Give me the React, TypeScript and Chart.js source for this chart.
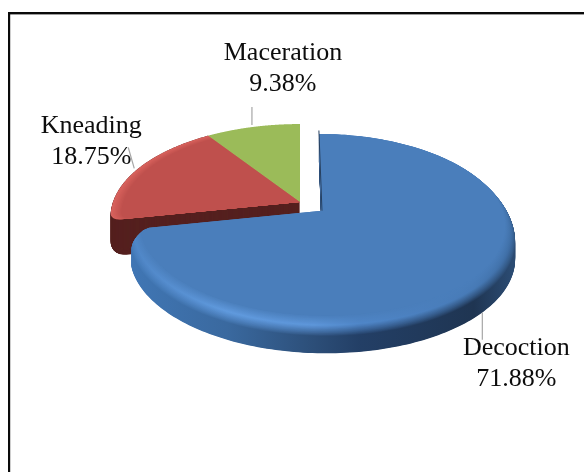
import React, { useEffect, useRef } from "react";
import { Chart, registerables } from "chart.js";

Chart.register(...registerables);

const categories = ["Decoction", "Kneading", "Maceration"];
const shares = [71.88, 18.75, 9.38];
const faceColors = ["#4a7ebb", "#bf504d", "#9bbb59"];
const sliceOffsets = [28, 0, 0];

// Tilted-disc view of the pie
const PERSPECTIVE = 0.161;
const TILT = 0.484;
const DEPTH = 31;
const RED_DEPTH = 36;
const BEVEL = 14;

type Rgb = [number, number, number];
const hex = (c: string): Rgb => [1, 3, 5].map((i) => parseInt(c.slice(i, i + 2), 16)) as Rgb;
const mix = (a: string, b: string, t: number) => {
  const x = hex(a);
  const y = hex(b);
  return `rgb(${x.map((v, i) => Math.round(v + (y[i] - v) * t)).join(",")})`;
};

// Shading across the blue slice, left to right: position, wall, bevel ridge
const blueShade: [number, string, string][] = [
  [0.0, "#4076b4", "#4f86c6"],
  [0.25, "#3a699f", "#609ade"],
  [0.48, "#2c4e78", "#5d96da"],
  [0.6, "#233f66", "#4f86c8"],
  [0.9, "#1f3552", "#477ab6"],
  [1.0, "#2b4b72", "#3f6ea5"],
];

// Label placement relative to each slice's rim anchor
const leaders: [number, number, number, number][] = [
  [-6, 5, -6, 32],
  [-3, -1, -9, -22],
  [-1, -2, -1, -20],
];
const labelOffsets: [number, number][] = [
  [28, 47],
  [-46, -36],
  [30, -67],
];

const tiltedPiePlugin = {
  id: "tiltedPie",
  beforeDraw(chart: Chart) {
    const { ctx, width, height } = chart;
    ctx.save();
    ctx.fillStyle = "#fff";
    ctx.fillRect(0, 0, width, height);
    ctx.fillStyle = "#0a0a0a";
    ctx.fillRect(8, 12, width - 8, 2.4);
    ctx.fillRect(8, 12, 2.2, height - 12);
    ctx.restore();
  },
  beforeDatasetsDraw(chart: Chart) {
    const { ctx } = chart;
    const arcs = chart.getDatasetMeta(0).data as any[];
    const radius = arcs[0].outerRadius;
    const cx = arcs[0].x;
    const cy = arcs[0].y;

    const project = (arc: any, index: number, angle: number, rho: number) => {
      const mid = (arc.startAngle + arc.endAngle) / 2;
      const ex = sliceOffsets[index] / radius;
      const u = rho * Math.cos(angle) + ex * Math.cos(mid);
      const v = rho * Math.sin(angle) + ex * Math.sin(mid);
      const s = 1 / (1 - PERSPECTIVE * v);
      return [cx + radius * u * s, cy + radius * TILT * v * s];
    };

    // Outline of a slice; `corner` softens the rim where it meets the visible straight edge
    const CORNER_SPAN = 0.075;
    const slicePath = (index: number, rho: number, dy: number, corner: "start" | "end" | "" = "") => {
      const arc = arcs[index];
      const [ax, ay] = project(arc, index, 0, 0);
      ctx.beginPath();
      ctx.moveTo(ax, ay + dy);
      const steps = 220;
      for (let i = 0; i <= steps; i++) {
        const a = arc.startAngle + ((arc.endAngle - arc.startAngle) * i) / steps;
        const gap = corner === "start" ? a - arc.startAngle : corner === "end" ? arc.endAngle - a : 1;
        const k = gap < CORNER_SPAN ? 1 - gap / CORNER_SPAN : 0;
        const r = rho - 0.045 * (1 - Math.sqrt(1 - k * k));
        const [x, y] = project(arc, index, a, r);
        ctx.lineTo(x, y + dy);
      }
      ctx.closePath();
    };

    ctx.save();

    // Kneading: dark body and cut face, then the lit top
    ctx.fillStyle = "#55201f";
    for (let d = RED_DEPTH; d >= 0; d -= 0.5) {
      const over = Math.max(0, d - (RED_DEPTH - 8)) / 8;
      slicePath(1, 1 - 0.035 * (1 - Math.sqrt(1 - over * over)), d, "start");
      ctx.fill();
    }
    const redRim = 8;
    for (let i = 0; i <= redRim; i++) {
      const t = i / redRim;
      ctx.fillStyle = mix("#d8625d", faceColors[1], t);
      slicePath(1, 1 - 0.055 * t, 0, "start");
      ctx.fill();
    }

    // Maceration: only its top is in view
    ctx.fillStyle = faceColors[2];
    slicePath(2, 1, 0);
    ctx.fill();

    // Decoction: wall, rounded bevel, then the flat top
    const left = project(arcs[0], 0, Math.PI, 1)[0];
    const right = project(arcs[0], 0, 0, 1)[0];
    for (let d = DEPTH; d >= 0; d -= 0.5) {
      const g = ctx.createLinearGradient(left, 0, right, 0);
      let rho = 1;
      if (d >= BEVEL) {
        blueShade.forEach(([p, wall]) => g.addColorStop(p, wall));
      } else {
        const t = 1 - d / BEVEL;
        rho = 1 - 0.05 * t * t;
        blueShade.forEach(([p, wall, ridge]) => {
          const c = t < 0.6 ? mix(wall, ridge, t / 0.6) : mix(ridge, faceColors[0], (t - 0.6) / 0.4);
          g.addColorStop(p, c);
        });
      }
      ctx.fillStyle = g;
      slicePath(0, rho, d, "end");
      ctx.fill();
    }
    ctx.fillStyle = faceColors[0];
    slicePath(0, 0.95, 0, "end");
    ctx.fill();

    // Thin shadow along the slice's straight edge at the gap
    const [ax, ay] = project(arcs[0], 0, 0, 0);
    const [tx, ty] = project(arcs[0], 0, arcs[0].startAngle, 1);
    ctx.strokeStyle = "#27405f";
    ctx.lineWidth = 1;
    ctx.beginPath();
    ctx.moveTo(ax, ay);
    ctx.lineTo(tx, ty);
    ctx.stroke();

    // Leader lines and two-line labels
    ctx.font = '26px "Liberation Serif"';
    ctx.textAlign = "center";
    ctx.textBaseline = "alphabetic";
    arcs.forEach((arc, i) => {
      const mid = (arc.startAngle + arc.endAngle) / 2;
      const [x, yRim] = project(arc, i, mid, 1);
      const y = yRim + (i === 0 ? DEPTH : 0);
      const [x0, y0, x1, y1] = leaders[i];
      ctx.strokeStyle = "#a6a6a6";
      ctx.lineWidth = 1.2;
      ctx.beginPath();
      ctx.moveTo(x + x0, y + y0);
      ctx.lineTo(x + x1, y + y1);
      ctx.stroke();
      const [lx, ly] = labelOffsets[i];
      ctx.fillStyle = "#0d0d0d";
      ctx.fillText(categories[i], x + lx, y + ly);
      ctx.fillText(`${shares[i].toFixed(2)}%`, x + lx, y + ly + 31);
    });

    ctx.restore();
    return false;
  },
};

export default function App() {
  const ref = useRef<HTMLCanvasElement>(null);
  useEffect(() => {
    if (!ref.current) return;
    const chart = new Chart(ref.current, {
      type: "pie",
      data: {
        labels: categories,
        datasets: [
          {
            data: shares,
            backgroundColor: faceColors,
            borderWidth: 0,
            offset: sliceOffsets,
          },
        ],
      },
      options: {
        responsive: false,
        animation: false,
        events: [],
        layout: { padding: { left: 99, right: 83, top: 1, bottom: 69 } },
        plugins: { legend: { display: false }, tooltip: { enabled: false } },
      },
      plugins: [tiltedPiePlugin],
    });
    return () => chart.destroy();
  }, []);
  return (
    <div style={{ position: "absolute", left: 0, top: 0 }}>
      <canvas ref={ref} width={584} height={472} style={{ display: "block" }} />
    </div>
  );
}
